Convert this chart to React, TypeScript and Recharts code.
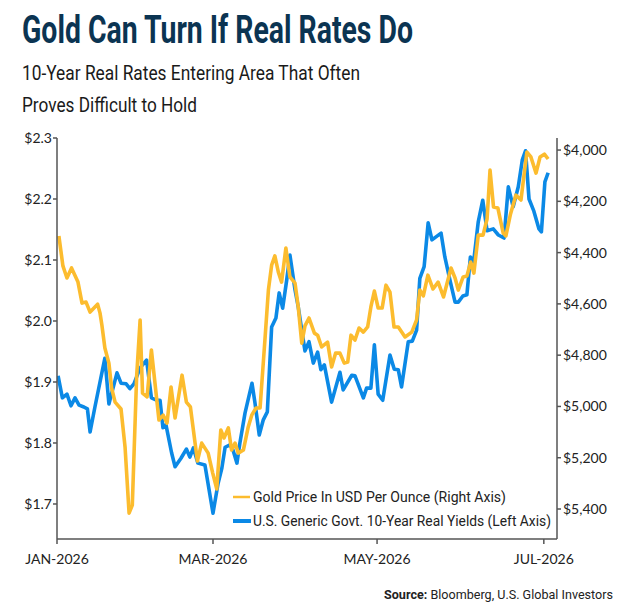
import { Legend, Line, LineChart, XAxis, YAxis } from "recharts";

// 10y real yield (left axis) — day offsets from 1 Jan 2026
const yieldDay = [
  0.4, 2.0, 3.7, 5.2, 6.7, 8.2, 10.0, 11.3, 12.3, 14.1,
  17.8, 19.3, 22.3, 23.8, 25.7, 27.1, 28.6, 30.9, 33.3, 35.1,
  37.2, 38.3, 39.4, 40.5, 42.6, 43.9, 46.1, 48.1, 49.4, 50.7,
  52.4, 55.0, 58.0, 59.9, 61.3, 62.5, 64.3, 65.4, 66.9, 68.0,
  69.9, 72.5, 73.6, 75.2, 76.7, 78.2, 79.8, 81.4, 82.6, 83.9,
  85.4, 86.6, 88.5, 89.7, 91.0, 92.2, 93.7, 95.3, 96.9, 98.1,
  99.4, 102.1, 105.2, 106.4, 109.6, 110.8, 113.9, 115.1, 116.7, 118.0,
  119.4, 121.1, 123.8, 125.4, 126.9, 128.1, 130.6, 132.1, 133.7, 134.9,
  136.5, 138.0, 139.4, 142.8, 144.2, 146.1, 148.0, 149.2, 150.9, 152.4,
  153.7, 154.9, 156.6, 158.3, 159.9, 162.2, 164.1, 166.2, 167.8, 169.6,
  171.5, 173.0, 174.2, 175.5, 177.3, 179.2, 180.1, 181.4, 182.6,
];
const yieldValue = [
  1.910, 1.874, 1.880, 1.861, 1.874, 1.862, 1.859, 1.856, 1.818, 1.859,
  1.939, 1.864, 1.915, 1.898, 1.897, 1.889, 1.897, 1.923, 1.936, 1.874,
  1.870, 1.870, 1.825, 1.830, 1.784, 1.761, 1.775, 1.790, 1.777, 1.792,
  1.767, 1.764, 1.685, 1.734, 1.759, 1.793, 1.797, 1.789, 1.767, 1.800,
  1.849, 1.898, 1.866, 1.813, 1.838, 1.851, 1.990, 2.005, 2.046, 2.021,
  2.067, 2.108, 2.051, 2.023, 1.985, 1.951, 1.966, 1.931, 1.949, 1.920,
  1.928, 1.867, 1.916, 1.887, 1.911, 1.910, 1.874, 1.890, 1.890, 1.961,
  1.880, 1.870, 1.944, 1.921, 1.920, 1.892, 1.966, 1.967, 1.985, 2.070,
  2.089, 2.161, 2.133, 2.144, 2.105, 2.067, 2.031, 2.031, 2.041, 2.043,
  2.105, 2.097, 2.162, 2.198, 2.148, 2.151, 2.141, 2.136, 2.220, 2.187,
  2.220, 2.264, 2.279, 2.200, 2.180, 2.151, 2.146, 2.228, 2.243,
];

// gold price USD/oz (right axis, inverted)
const goldDay = [
  0.7, 2.2, 3.7, 5.4, 7.8, 9.3, 10.8, 12.3, 15.1, 16.0,
  16.7, 17.8, 19.3, 20.3, 21.6, 23.8, 25.3, 26.8, 28.0, 29.6,
  30.9, 31.8, 33.5, 35.1, 37.9, 39.5, 40.9, 42.4, 43.9, 46.5,
  48.1, 49.6, 52.2, 53.8, 56.2, 57.9, 59.4, 60.9, 62.1, 63.7,
  64.9, 66.2, 67.4, 69.3, 71.1, 72.4, 74.0, 75.5, 77.3, 78.6,
  79.8, 81.0, 82.3, 83.5, 85.1, 86.6, 88.5, 89.7, 91.0, 92.2,
  93.7, 95.7, 96.9, 98.4, 100.6, 102.1, 103.6, 105.2, 106.8, 108.1,
  109.3, 110.8, 112.3, 113.9, 115.5, 116.7, 118.0, 119.4, 120.9, 122.3,
  123.8, 125.3, 126.9, 129.4, 131.9, 133.7, 134.9, 136.2, 137.9, 139.8,
  141.7, 143.7, 146.5, 148.0, 149.2, 151.0, 152.4, 153.8, 155.0, 156.6,
  158.4, 159.9, 161.0, 162.3, 163.9, 165.9, 166.9, 168.6, 170.6, 172.5,
  174.7, 176.2, 178.1, 179.6, 181.2, 182.6,
];
const goldValue = [
  4335, 4452, 4499, 4460, 4515, 4597, 4593, 4632, 4601, 4636,
  4683, 4772, 4831, 4928, 4983, 5010, 5158, 5416, 5385, 4885,
  4663, 4948, 4963, 4780, 5053, 5034, 5065, 4924, 5045, 4878,
  4983, 5002, 5213, 5143, 5182, 5260, 5322, 5092, 5123, 5084,
  5170, 5143, 5182, 5170, 5080, 5034, 5006, 5006, 4741, 4546,
  4449, 4413, 4476, 4515, 4382, 4495, 4519, 4612, 4753, 4686,
  4655, 4714, 4722, 4768, 4749, 4846, 4792, 4792, 4831, 4827,
  4722, 4741, 4694, 4710, 4690, 4612, 4550, 4616, 4616, 4527,
  4554, 4690, 4690, 4729, 4710, 4663, 4546, 4569, 4488, 4542,
  4515, 4573, 4460, 4499, 4546, 4495, 4491, 4437, 4480, 4332,
  4332, 4269, 4078, 4222, 4226, 4324, 4335, 4250, 4176, 4195,
  4008, 4027, 4090, 4027, 4016, 4035,
];

const xTicks = [0, 58, 119, 181];
const xTickLabels = ["JAN-2026", "MAR-2026", "MAY-2026", "JUL-2026"];
const leftTicks = [1.7, 1.8, 1.9, 2.0, 2.1, 2.2, 2.3];
const rightTicks = [4000, 4200, 4400, 4600, 4800, 5000, 5200, 5400];

const GOLD = "#fcbc2e";
const BLUE = "#0b89e6";
const AXIS = "#555";
const NARROW = "'Liberation Sans Narrow', 'Roboto', 'Arial', sans-serif";

const yieldData = yieldDay.map((d, i) => ({ day: d, yield: yieldValue[i] }));
const goldData = goldDay.map((d, i) => ({ day: d, gold: goldValue[i] }));

function LegendBox({ payload }: any) {
  const items = payload || [];
  const gold = items.find((p: any) => p.dataKey === "gold");
  const yld = items.find((p: any) => p.dataKey === "yield");
  return (
    <svg width={400} height={52} style={{ display: "block", overflow: "visible" }}>
      {gold && (
        <g>
          <line x1={5} x2={22} y1={15} y2={15} stroke={gold.color} strokeWidth={2.5} />
          <text x={25} y={20} fontSize={14.5} fontFamily={NARROW} fill="#222" textLength={253} lengthAdjust="spacingAndGlyphs">
            {gold.value}
          </text>
        </g>
      )}
      {yld && (
        <g>
          <line x1={5} x2={23} y1={39} y2={39} stroke={yld.color} strokeWidth={4} />
          <text x={25} y={44} fontSize={14.5} fontFamily={NARROW} fill="#222" textLength={298} lengthAdjust="spacingAndGlyphs">
            {yld.value}
          </text>
        </g>
      )}
    </svg>
  );
}

export default function App() {
  return (
    <div style={{ position: "absolute", left: 0, top: 0, width: 642, height: 607, background: "#fff" }}>
      <LineChart width={642} height={607} margin={{ top: 138, right: 5, bottom: 38, left: 7 }}>
        <XAxis
          dataKey="day"
          type="number"
          domain={[0, 185.9]}
          ticks={xTicks}
          interval={0}
          allowDataOverflow
          tickFormatter={(v) => xTickLabels[xTicks.indexOf(Number(v))] ?? ""}
          tick={{ fontSize: 14, fill: "#222", fontFamily: "Lato" }}
          axisLine={{ stroke: AXIS, strokeWidth: 1.5 }}
          tickLine={{ stroke: AXIS, strokeWidth: 1.5 }}
          tickSize={5}
          tickMargin={10}
          height={30}
        />
        <YAxis
          yAxisId="left"
          orientation="left"
          domain={[1.6426, 2.3]}
          ticks={leftTicks}
          interval={0}
          allowDataOverflow
          tickFormatter={(v) => `$${Number(v).toFixed(1)}`}
          tick={{ fontSize: 14, fill: "#222", fontFamily: "Lato" }}
          axisLine={{ stroke: AXIS, strokeWidth: 1.5 }}
          tickLine={{ stroke: AXIS, strokeWidth: 1.5 }}
          tickSize={4}
          tickMargin={1}
          width={50}
        />
        <YAxis
          yAxisId="right"
          orientation="right"
          reversed
          domain={[3953, 5517]}
          ticks={rightTicks}
          interval={0}
          allowDataOverflow
          tickFormatter={(v) => `$${Number(v).toLocaleString("en-US")}`}
          tick={{ fontSize: 14, fill: "#222", fontFamily: "Lato" }}
          axisLine={{ stroke: AXIS, strokeWidth: 1.5 }}
          tickLine={{ stroke: AXIS, strokeWidth: 1.5 }}
          tickSize={4}
          tickMargin={2}
          width={80}
        />
        <Legend
          layout="horizontal"
          verticalAlign="middle"
          align="center"
          content={<LegendBox />}
          wrapperStyle={{ left: 228, top: 482, width: 400, height: 52 }}
        />
        <Line
          yAxisId="left"
          data={yieldData}
          dataKey="yield"
          name="U.S. Generic Govt. 10-Year Real Yields (Left Axis)"
          type="linear"
          stroke={BLUE}
          strokeWidth={3.6}
          strokeLinejoin="round"
          dot={false}
          isAnimationActive={false}
        />
        <Line
          yAxisId="right"
          data={goldData}
          dataKey="gold"
          name="Gold Price In USD Per Ounce (Right Axis)"
          type="linear"
          stroke={GOLD}
          strokeWidth={3.6}
          strokeLinejoin="round"
          dot={false}
          isAnimationActive={false}
        />
      </LineChart>
      <svg width={642} height={607} style={{ position: "absolute", left: 0, top: 0, pointerEvents: "none" }}>
        <text x={22} y={43} fontSize={38} fontWeight={700} fontFamily={NARROW} fill="#0b3452" textLength={391} lengthAdjust="spacingAndGlyphs">
          Gold Can Turn If Real Rates Do
        </text>
        <text x={22} y={80} fontSize={21} fontFamily={NARROW} fill="#1a1a1a" textLength={338} lengthAdjust="spacingAndGlyphs">
          10-Year Real Rates Entering Area That Often
        </text>
        <text x={22} y={112} fontSize={21} fontFamily={NARROW} fill="#1a1a1a" textLength={175} lengthAdjust="spacingAndGlyphs">
          Proves Difficult to Hold
        </text>
        <text x={384} y={599} fontSize={13.5} fontFamily={NARROW} fill="#222" textLength={229} lengthAdjust="spacingAndGlyphs">
          <tspan fontWeight={700}>Source:</tspan> Bloomberg, U.S. Global Investors
        </text>
      </svg>
    </div>
  );
}
